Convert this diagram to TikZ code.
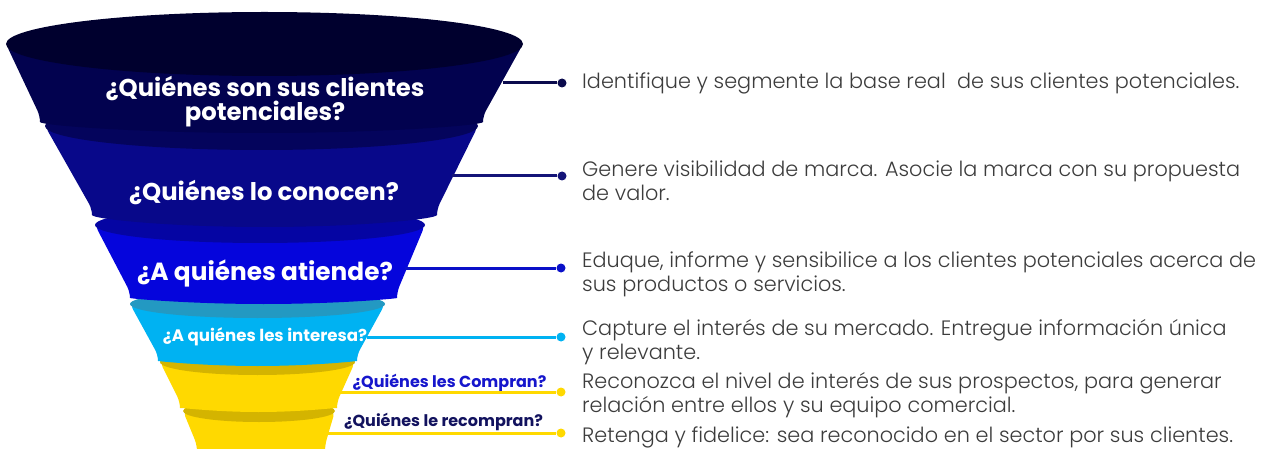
\documentclass[tikz,border=0pt]{standalone}
\usepackage{fontspec}
\setmainfont{Poppins}
\newfontfamily\descfont{Poppins Light}
\usetikzlibrary{positioning}
\definecolor{topA}{HTML}{00002E}
\definecolor{bodyA}{HTML}{02024F}
\definecolor{topB}{HTML}{04045C}
\definecolor{bodyB}{HTML}{08088A}
\definecolor{topC}{HTML}{0505A3}
\definecolor{bodyC}{HTML}{0505DC}
\definecolor{topD}{HTML}{2399C2}
\definecolor{bodyD}{HTML}{00B2F2}
\definecolor{topE}{HTML}{D4B400}
\definecolor{bodyE}{HTML}{FFD900}
\definecolor{lineA}{HTML}{0B0B4D}
\definecolor{lineB}{HTML}{141478}
\definecolor{lineC}{HTML}{0A10C8}
\definecolor{descgray}{HTML}{3C3C3C}
\definecolor{lblblue}{HTML}{1616CC}
\definecolor{lblnavy}{HTML}{12125E}
\tikzset{
  seg/.style = {rounded corners=6pt},
  lbl_w/.style = {align=center, inner sep=0pt, text centered, font=\bfseries, white},
  lbl_c/.style = {align=center, inner sep=0pt, text centered, font=\bfseries\fontsize{16}{18}\selectfont},
  desc_t/.style = {align=left, anchor=west, inner sep=0pt, text=descgray, font=\descfont\fontsize{20.8}{24}\selectfont},
  dot_n/.style = {circle, inner sep=0pt, minimum size=9pt},
  link/.style = {line width=3pt}
}
\begin{document}
\begin{tikzpicture}[x=1pt, y=-1pt]
\useasboundingbox (0,0) rectangle (1277,449);
% funnel, bottom layer first
\fill[bodyE, seg] (183,411) -- (197,445) arc[start angle=180, end angle=0, x radius=64, y radius=10] -- (335,411) -- cycle;
\fill[topE] (259,411) ellipse[x radius=76, y radius=11];
\fill[bodyE, seg] (160,362) -- (180,402) arc[start angle=180, end angle=0, x radius=78.5, y radius=10] -- (355,362) -- cycle;
\fill[topE] (257.5,362) ellipse[x radius=97.5, y radius=13];
\fill[bodyD, seg] (130,304) -- (158,355) arc[start angle=180, end angle=0, x radius=99.5, y radius=11] -- (385,304) -- cycle;
\fill[topD] (257.5,304) ellipse[x radius=127.5, y radius=14];
\fill[bodyC, seg] (95,225) -- (130,292) arc[start angle=180, end angle=0, x radius=133.5, y radius=12] -- (425,225) -- cycle;
\fill[topC] (260,225) ellipse[x radius=165, y radius=18];
\fill[bodyB, seg] (45,126) -- (92,209) arc[start angle=180, end angle=0, x radius=172.5, y radius=18] -- (478,126) -- cycle;
\fill[topB] (261.5,126) ellipse[x radius=216.5, y radius=24];
\fill[bodyA, seg] (6,44) -- (40,116) arc[start angle=180, end angle=0, x radius=221.5, y radius=17] -- (523,44) -- cycle;
\fill[topA] (264.5,44) ellipse[x radius=258.5, y radius=32];

\node[lbl_w, font=\bfseries\fontsize{24.3}{24}\selectfont] (q1) at (265,102) {¿Quiénes son sus clientes\\potenciales?};
\node[lbl_w, font=\bfseries\fontsize{24.3}{24}\selectfont] (q2) at (264,193) {¿Quiénes lo conocen?};
\node[lbl_w, font=\bfseries\fontsize{24.8}{26}\selectfont] (q3) at (265,273) {¿A quiénes atiende?};
\node[lbl_w, font=\bfseries\fontsize{16.6}{18}\selectfont] (q4) at (265,337) {¿A quiénes les interesa?};
\node[lbl_c, text=lblblue] (q5) at (449.5,383) {¿Quiénes les Compran?};
\node[lbl_c, text=lblnavy] (q6) at (443.5,422) {¿Quiénes le recompran?};

\coordinate (e1) at (503,83);
\coordinate (e2) at (452,176);
\coordinate (e3) at (405,268);
\coordinate (e4) at (367,337);
\coordinate (e5) at (340,392);
\coordinate (e6) at (327,433);
\node[dot_n, fill=lineA] (d1) at (562,83) {};
\node[dot_n, fill=lineB] (d2) at (562,176) {};
\node[dot_n, fill=lineC] (d3) at (561,268) {};
\node[dot_n, fill=bodyD] (d4) at (561,337) {};
\node[dot_n, fill=bodyE] (d5) at (561,392) {};
\node[dot_n, fill=bodyE] (d6) at (561,433) {};
\draw[link, lineA] (e1) -- (d1);
\draw[link, lineB] (e2) -- (d2);
\draw[link, lineC] (e3) -- (d3);
\draw[link, bodyD] (e4) -- (d4);
\draw[link, bodyE] (e5) -- (d5);
\draw[link, bodyE] (e6) -- (d6);

\node[desc_t] (t1) at (582,83) {Identifique y segmente la base real\ \ de sus clientes potenciales.};
\node[desc_t] (t2) at (582,181) {Genere visibilidad de marca. Asocie la marca con su propuesta\\de valor.};
\node[desc_t] (t3) at (582,274) {Eduque, informe y sensibilice a los clientes potenciales acerca de\\sus productos o servicios.};
\node[desc_t] (t4) at (582,342) {Capture el interés de su mercado. Entregue información única\\y relevante.};
\node[desc_t] (t5) at (582,395) {Reconozca el nivel de interés de sus prospectos, para generar\\relación entre ellos y su equipo comercial.};
\node[desc_t] (t6) at (582,437) {Retenga y fidelice: sea reconocido en el sector por sus clientes.};
\end{tikzpicture}
\end{document}
